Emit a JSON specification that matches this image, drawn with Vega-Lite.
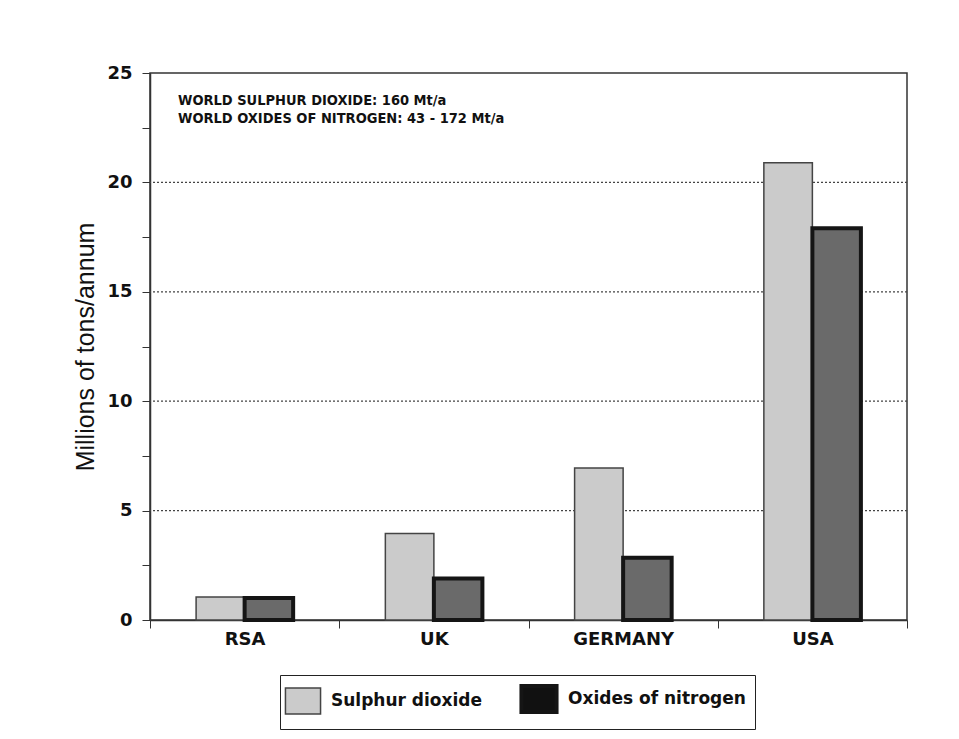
{
  "$schema": "https://vega.github.io/schema/vega-lite/v6.json",
  "width": 757,
  "height": 547,
  "autosize": "none",
  "padding": {"left": 150, "top": 73, "right": 52, "bottom": 119},
  "background": "white",
  "config": {
    "font": "DejaVu Sans",
    "view": {"stroke": "#333", "strokeWidth": 1.5},
    "axisX": {
      "title": null, "labelAngle": 0, "labelFont": "DejaVu Sans", "labelFontWeight": "bold",
      "labelFontSize": 18, "labelColor": "#111", "labelPadding": 2, "tickBand": "extent", "labelAlign": "center",
      "tickSize": 8, "tickColor": "#333", "domainColor": "#333", "domainWidth": 1.5
    },
    "axisY": {
      "titleFont": "Liberation Sans", "titleFontSize": 25, "titleFontWeight": "normal",
      "titleColor": "#111", "titlePadding": 8, "grid": false,
      "labelFont": "DejaVu Sans", "labelFontSize": 18, "labelFontWeight": "bold", "labelColor": "#111",
      "labelPadding": 10, "tickSize": 8, "tickColor": "#333", "domainColor": "#333", "domainWidth": 1.5
    }
  },
  "datasets": {
    "bars": [
      {"country": "RSA", "gas": "Sulphur dioxide", "value": 1.05},
      {"country": "RSA", "gas": "Oxides of nitrogen", "value": 1.0},
      {"country": "UK", "gas": "Sulphur dioxide", "value": 3.95},
      {"country": "UK", "gas": "Oxides of nitrogen", "value": 1.9},
      {"country": "GERMANY", "gas": "Sulphur dioxide", "value": 6.95},
      {"country": "GERMANY", "gas": "Oxides of nitrogen", "value": 2.85},
      {"country": "USA", "gas": "Sulphur dioxide", "value": 20.9},
      {"country": "USA", "gas": "Oxides of nitrogen", "value": 17.9}
    ],
    "grid": [{"v": 5}, {"v": 10}, {"v": 15}, {"v": 20}],
    "notes": [
      {"line": "WORLD SULPHUR DIOXIDE: 160 Mt/a", "pos": 23.72},
      {"line": "WORLD OXIDES OF NITROGEN: 43 - 172 Mt/a", "pos": 22.9}
    ]
  },
  "layer": [
    {
      "data": {"name": "grid"},
      "mark": {"type": "rule", "color": "#444", "strokeDash": [2, 2], "strokeWidth": 1.2},
      "encoding": {
        "y": {"field": "v", "type": "quantitative", "scale": {"domain": [0, 25]}}
      }
    },
    {
      "data": {"name": "bars"},
      "mark": {"type": "point", "filled": true, "shape": "square", "size": 0, "strokeWidth": 0},
      "encoding": {
        "x": {
          "field": "country", "type": "nominal", "sort": ["RSA", "UK", "GERMANY", "USA"],
          "scale": {"paddingInner": 0, "paddingOuter": 0},
          "axis": {"title": null, "labelAngle": 0, "tickBand": "extent", "labelAlign": "center"}
        },
        "y": {"field": "value", "type": "quantitative"},
        "color": {
          "field": "gas", "type": "nominal", "sort": ["Sulphur dioxide", "Oxides of nitrogen"],
          "scale": {"domain": ["Sulphur dioxide", "Oxides of nitrogen"], "range": ["#cbcbcb", "#111111"]},
          "legend": {
            "title": null, "orient": "none", "direction": "horizontal",
            "legendX": 130, "legendY": 602,
            "strokeColor": "#222", "padding": 9, "columnPadding": 30,
            "symbolType": "M-1.35,-1L1.35,-1L1.35,1L-1.35,1Z", "symbolSize": 676,
            "symbolOpacity": 1, "symbolStrokeColor": "#111", "symbolStrokeWidth": 1.2,
            "labelFont": "DejaVu Sans", "labelFontSize": 17, "labelFontWeight": "bold", "labelColor": "#111",
            "labelOffset": 14, "labelLimit": 400
          }
        }
      }
    },
    {
      "data": {"name": "bars"},
      "mark": {"type": "bar"},
      "encoding": {
        "x": {
          "field": "country", "type": "nominal", "sort": ["RSA", "UK", "GERMANY", "USA"],
          "scale": {"paddingInner": 0, "paddingOuter": 0},
          "axis": {"title": null, "labelAngle": 0, "tickBand": "extent", "labelAlign": "center"}
        },
        "xOffset": {
          "field": "gas", "type": "nominal", "sort": ["Sulphur dioxide", "Oxides of nitrogen"],
          "scale": {"paddingInner": 0, "paddingOuter": 0.95}
        },
        "y": {
          "field": "value", "type": "quantitative",
          "scale": {"domain": [0, 25], "nice": false},
          "axis": {
            "title": "Millions of tons/annum",
            "values": [0, 2.5, 5, 7.5, 10, 12.5, 15, 17.5, 20, 22.5, 25],
            "labelExpr": "datum.value % 5 == 0 ? datum.label : ''"
          }
        },
        "fill": {
          "field": "gas", "type": "nominal",
          "scale": {"domain": ["Sulphur dioxide", "Oxides of nitrogen"], "range": ["#cbcbcb", "#6a6a6a"]},
          "legend": null
        },
        "stroke": {
          "field": "gas", "type": "nominal",
          "scale": {"domain": ["Sulphur dioxide", "Oxides of nitrogen"], "range": ["#444", "#151515"]},
          "legend": null
        },
        "strokeWidth": {
          "field": "gas", "type": "nominal",
          "scale": {"domain": ["Sulphur dioxide", "Oxides of nitrogen"], "range": [1.5, 4]},
          "legend": null
        }
      }
    },
    {
      "data": {"name": "notes"},
      "mark": {"type": "text", "align": "left", "baseline": "middle", "font": "DejaVu Sans Condensed, Liberation Sans", "fontWeight": "bold", "fontSize": 14.5, "color": "#111", "dx": 28},
      "encoding": {
        "x": {"datum": "RSA", "type": "nominal", "bandPosition": 0},
        "y": {"field": "pos", "type": "quantitative"},
        "text": {"field": "line"}
      }
    }
  ]
}
